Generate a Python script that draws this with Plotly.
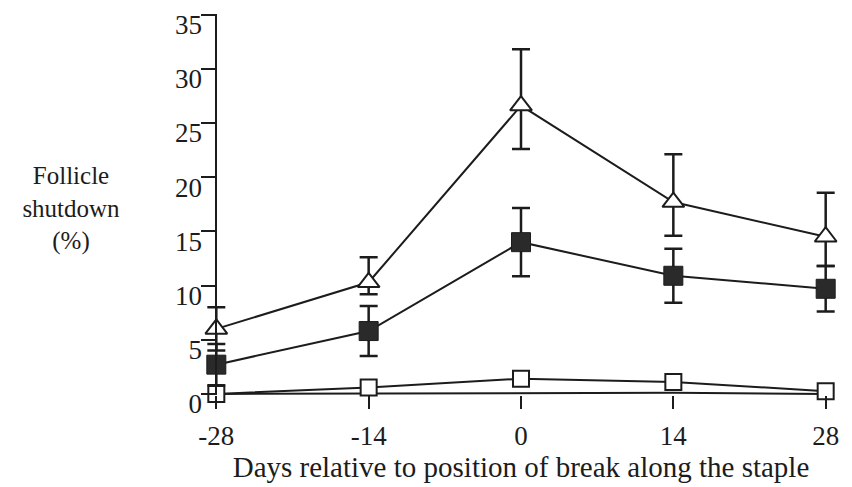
import plotly.graph_objects as go

# Days relative to the position of the break along the staple
days = [-28, -14, 0, 14, 28]
x_tick_text = ["-28", "-14", "0", "14", "28"]
y_tick_vals = [0, 5, 10, 15, 20, 25, 30, 35]

# Follicle shutdown (%) for each group, with error bar extents
triangle_mean = [6.0, 10.3, 26.6, 17.7, 14.5]
triangle_err_up = [2.0, 2.3, 5.2, 4.4, 4.05]
triangle_err_down = [2.0, 1.1, 4.0, 3.1, 2.7]

filled_mean = [2.7, 5.8, 14.0, 10.9, 9.7]
filled_err = [1.9, 2.3, 3.15, 2.5, 2.1]

open_mean = [0.0, 0.6, 1.4, 1.1, 0.25]
base_mean = [0.0, 0.05, 0.1, 0.1, 0.0]

y_title = "Follicle<br>shutdown<br>(%)"
x_title = "Days relative to position of break along the staple"

INK = "#1c1c1c"
FONT = "'Liberation Serif', 'Times New Roman', Times, 'DejaVu Serif', serif"

W, H = 852, 487
x_lo, x_hi = -29.5, 29.5
y_lo, y_hi = -0.1, 35.05

fig = go.Figure()

fig.add_trace(go.Scatter(
    x=days, y=base_mean, mode="lines",
    line=dict(color=INK, width=2), showlegend=False,
))

fig.add_trace(go.Scatter(
    x=days, y=open_mean, mode="lines+markers",
    line=dict(color=INK, width=2),
    marker=dict(symbol="square", size=16, color="white",
                line=dict(color=INK, width=2)),
    cliponaxis=False, showlegend=False,
))

fig.add_trace(go.Scatter(
    x=days, y=filled_mean, mode="lines+markers",
    line=dict(color=INK, width=2),
    marker=dict(symbol="square", size=19, color="#2a2a2a",
                line=dict(color=INK, width=1)),
    error_y=dict(type="data", array=filled_err, color=INK,
                 thickness=2.5, width=9),
    cliponaxis=False, showlegend=False,
))

fig.add_trace(go.Scatter(
    x=days, y=triangle_mean, mode="lines+markers",
    line=dict(color=INK, width=2),
    marker=dict(symbol="triangle-up", size=19, color="white",
                line=dict(color=INK, width=2)),
    error_y=dict(type="data", symmetric=False, array=triangle_err_up,
                 arrayminus=triangle_err_down, color=INK,
                 thickness=2.5, width=9),
    cliponaxis=False, showlegend=False,
))

fig.update_layout(
    width=W, height=H,
    margin=dict(l=200, r=10, t=14, b=92),
    paper_bgcolor="white", plot_bgcolor="white",
    font=dict(family=FONT, size=27, color=INK),
    # y-axis caption, written horizontally to the left of the axis
    title=dict(
        text=y_title, xref="container", yref="container",
        x=71 / W, y=1 - 184 / H, xanchor="center", yanchor="middle",
        font=dict(family=FONT, size=25, color=INK),
    ),
    xaxis=dict(
        range=[x_lo, x_hi], tickvals=days, ticktext=x_tick_text,
        showline=False, showgrid=False, zeroline=False,
        ticks="outside", ticklen=13, tickwidth=2, tickcolor=INK,
        ticklabelstandoff=4,
        tickfont=dict(family=FONT, size=27, color=INK),
        title=dict(text=x_title, standoff=0,
                   font=dict(family=FONT, size=29, color=INK)),
    ),
    yaxis=dict(
        range=[y_lo, y_hi], tickvals=y_tick_vals,
        showline=True, linewidth=2, linecolor=INK,
        showgrid=False, zeroline=False,
        ticks="outside", ticklen=14, tickwidth=2, tickcolor=INK,
        anchor="free", position=(days[0] - x_lo) / (x_hi - x_lo),
        ticklabelshift=10, ticklabelstandoff=-6,
        tickfont=dict(family=FONT, size=27, color=INK),
    ),
)

fig.write_html("out.html")
